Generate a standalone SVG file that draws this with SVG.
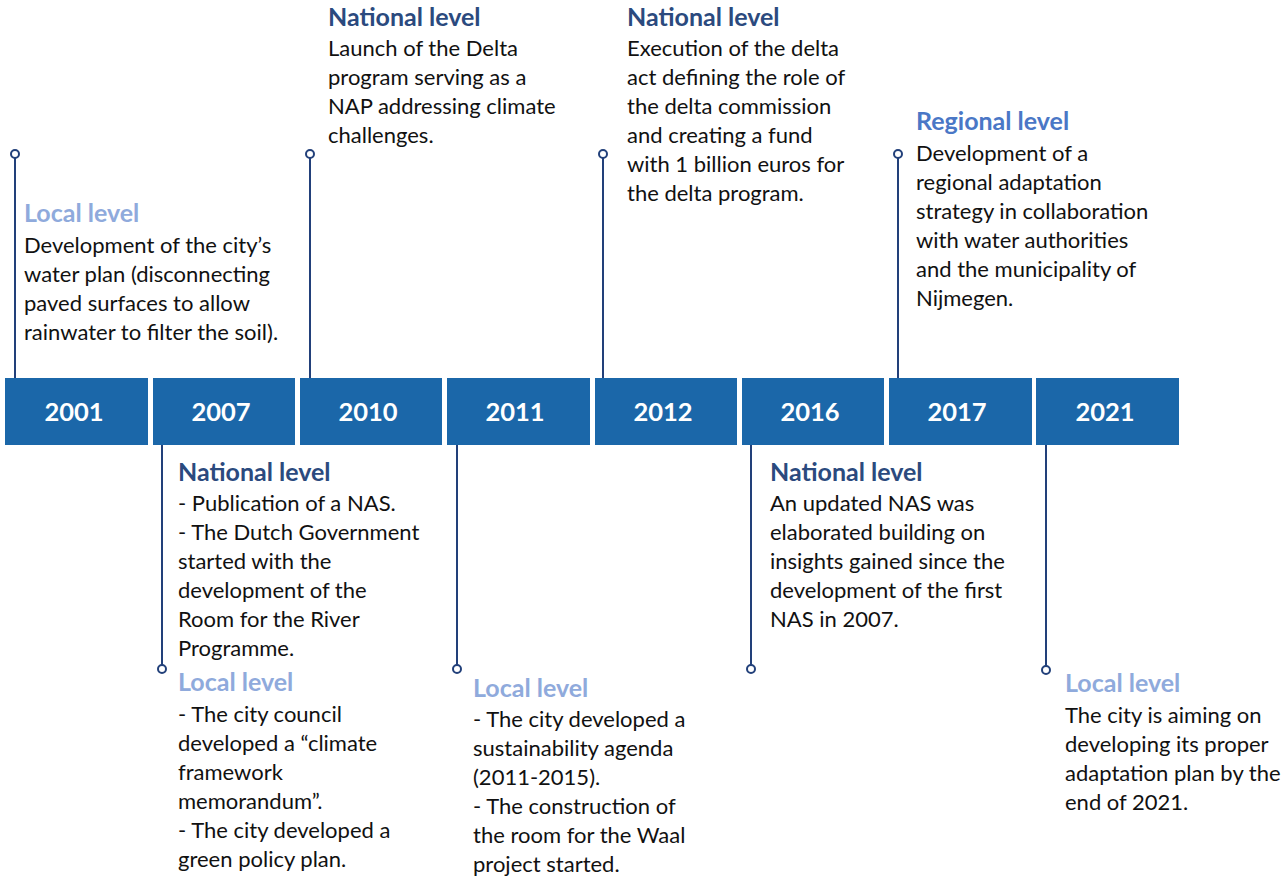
<svg xmlns="http://www.w3.org/2000/svg" width="1287" height="880" viewBox="0 0 1287 880">
<style>
.box{fill:#1B67A9}
.yr{font-family:Lato,"Open Sans",sans-serif;font-weight:bold;font-size:25.5px;fill:#ffffff;text-anchor:middle}
.b{font-family:Lato,"Open Sans",sans-serif;font-size:22px;fill:#111111}
.nat{font-family:Lato,"Open Sans",sans-serif;font-weight:bold;font-size:25px;fill:#2B4A7E}
.reg{font-family:Lato,"Open Sans",sans-serif;font-weight:bold;font-size:25px;fill:#4A77C6}
.loc{font-family:Lato,"Open Sans",sans-serif;font-weight:bold;font-size:25px;fill:#8FAADC}
.ln{stroke:#22407A;stroke-width:2;fill:none}
.dot{stroke:#22407A;stroke-width:2;fill:#ffffff}
</style>
<rect width="1287" height="880" fill="#ffffff"/>
<g id="connectors">
<line class="ln" x1="15" y1="158" x2="15" y2="378"/><circle class="dot" cx="15" cy="154" r="4"/>
<line class="ln" x1="162" y1="445" x2="162" y2="665"/><circle class="dot" cx="162" cy="669" r="4"/>
<line class="ln" x1="310" y1="158" x2="310" y2="378"/><circle class="dot" cx="310" cy="154" r="4"/>
<line class="ln" x1="457" y1="445" x2="457" y2="665"/><circle class="dot" cx="457" cy="669" r="4"/>
<line class="ln" x1="603" y1="158" x2="603" y2="378"/><circle class="dot" cx="603" cy="154" r="4"/>
<line class="ln" x1="751" y1="445" x2="751" y2="665"/><circle class="dot" cx="751" cy="669" r="4"/>
<line class="ln" x1="898" y1="158" x2="898" y2="378"/><circle class="dot" cx="898" cy="154" r="4"/>
<line class="ln" x1="1046" y1="445" x2="1046" y2="666"/><circle class="dot" cx="1046" cy="670" r="4"/>
</g>
<g id="y2001"><rect class="box" x="5" y="378" width="143" height="67"/><text class="yr" x="74" y="421">2001</text></g>
<g id="y2007"><rect class="box" x="153" y="378" width="142" height="67"/><text class="yr" x="221" y="421">2007</text></g>
<g id="y2010"><rect class="box" x="300" y="378" width="142" height="67"/><text class="yr" x="368" y="421">2010</text></g>
<g id="y2011"><rect class="box" x="447" y="378" width="143" height="67"/><text class="yr" x="515" y="421">2011</text></g>
<g id="y2012"><rect class="box" x="595" y="378" width="142" height="67"/><text class="yr" x="663" y="421">2012</text></g>
<g id="y2016"><rect class="box" x="742" y="378" width="142" height="67"/><text class="yr" x="810" y="421">2016</text></g>
<g id="y2017"><rect class="box" x="889" y="378" width="143" height="67"/><text class="yr" x="957" y="421">2017</text></g>
<g id="y2021"><rect class="box" x="1036" y="378" width="143" height="67"/><text class="yr" x="1105" y="421">2021</text></g>

<g id="t2001">
<text class="loc" x="24" y="222">Local level</text>
<text class="b" x="24" y="253">Development of the city’s</text>
<text class="b" x="24" y="282">water plan (disconnecting</text>
<text class="b" x="24" y="311">paved surfaces to allow</text>
<text class="b" x="24" y="340">rainwater to filter the soil).</text>
</g>
<g id="t2010">
<text class="nat" x="328" y="26">National level</text>
<text class="b" x="328" y="56">Launch of the Delta</text>
<text class="b" x="328" y="85">program serving as a</text>
<text class="b" x="328" y="114">NAP addressing climate</text>
<text class="b" x="328" y="143">challenges.</text>
</g>
<g id="t2012">
<text class="nat" x="627" y="26">National level</text>
<text class="b" x="627" y="56">Execution of the delta</text>
<text class="b" x="627" y="85">act defining the role of</text>
<text class="b" x="627" y="114">the delta commission</text>
<text class="b" x="627" y="143">and creating a fund</text>
<text class="b" x="627" y="172">with 1 billion euros for</text>
<text class="b" x="627" y="201">the delta program.</text>
</g>
<g id="t2017">
<text class="reg" x="916" y="130">Regional level</text>
<text class="b" x="916" y="161">Development of a</text>
<text class="b" x="916" y="190">regional adaptation</text>
<text class="b" x="916" y="219">strategy in collaboration</text>
<text class="b" x="916" y="248">with water authorities</text>
<text class="b" x="916" y="277">and the municipality of</text>
<text class="b" x="916" y="306">Nijmegen.</text>
</g>
<g id="t2007">
<text class="nat" x="178" y="481">National level</text>
<text class="b" x="178" y="511">- Publication of a NAS.</text>
<text class="b" x="178" y="540">- The Dutch Government</text>
<text class="b" x="178" y="569">started with the</text>
<text class="b" x="178" y="598">development of the</text>
<text class="b" x="178" y="627">Room for the River</text>
<text class="b" x="178" y="656">Programme.</text>
<text class="loc" x="178" y="691">Local level</text>
<text class="b" x="178" y="722">- The city council</text>
<text class="b" x="178" y="751">developed a “climate</text>
<text class="b" x="178" y="780">framework</text>
<text class="b" x="178" y="809">memorandum”.</text>
<text class="b" x="178" y="838">- The city developed a</text>
<text class="b" x="178" y="867">green policy plan.</text>
</g>
<g id="t2011">
<text class="loc" x="473" y="697">Local level</text>
<text class="b" x="473" y="727">- The city developed a</text>
<text class="b" x="473" y="756">sustainability agenda</text>
<text class="b" x="473" y="785">(2011-2015).</text>
<text class="b" x="473" y="814">- The construction of</text>
<text class="b" x="473" y="843">the room for the Waal</text>
<text class="b" x="473" y="872">project started.</text>
</g>
<g id="t2016">
<text class="nat" x="770" y="481">National level</text>
<text class="b" x="770" y="511">An updated NAS was</text>
<text class="b" x="770" y="540">elaborated building on</text>
<text class="b" x="770" y="569">insights gained since the</text>
<text class="b" x="770" y="598">development of the first</text>
<text class="b" x="770" y="627">NAS in 2007.</text>
</g>
<g id="t2021">
<text class="loc" x="1065" y="692">Local level</text>
<text class="b" x="1065" y="723">The city is aiming on</text>
<text class="b" x="1065" y="752">developing its proper</text>
<text class="b" x="1065" y="781">adaptation plan by the</text>
<text class="b" x="1065" y="810">end of 2021.</text>
</g>
</svg>
